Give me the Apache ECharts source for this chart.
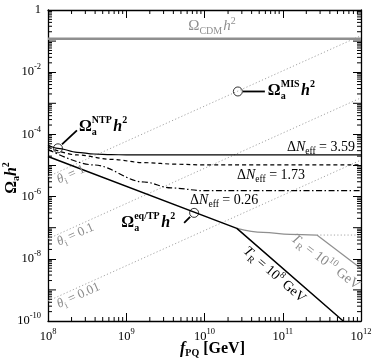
<!DOCTYPE html>
<html><head><meta charset="utf-8">
<script src="https://cdn.jsdelivr.net/npm/echarts@6/dist/echarts.min.js"></script>
<style>html,body{margin:0;padding:0;background:#fff}#c{width:374px;height:358px}</style>
</head><body><div id="c"></div>
<script>
// ---------------- data ----------------
const xTickExponents = [8, 9, 10, 11, 12];
const yTickExponents = [-10, -8, -6, -4, -2, 0];

const cdmF = [1e8, 1e12];
const cdmOmega = [0.12, 0.12];

const thetaF = [1e8, 1e12];
const theta1Omega = [4.4e-6, 0.15];
const theta01Omega = [4.4e-8, 1.5e-3];
const theta001Omega = [4.4e-10, 1.5e-5];

const dN359F = [1e8, 1.34e8, 2.35e8, 3.87e8, 6.4e8, 1e9, 1e12];
const dN359Omega = [4.57e-5, 3.57e-5, 2.66e-5, 2.34e-5, 2.24e-5, 2.2e-5, 2.19e-5];

const dN173F = [1e8, 2.35e8, 6.4e8, 1.69e9, 4.47e9, 9.9e9, 1e12];
const dN173Omega = [3.9e-5, 2.18e-5, 1.58e-5, 1.23e-5, 1.1e-5, 1.04e-5, 1.04e-5];

const dN026F = [1e8, 3.87e8, 1.69e9, 3.74e9, 9.9e9, 1e12];
const dN026Omega = [3.3e-5, 1.04e-5, 2.95e-6, 1.9e-6, 1.55e-6, 1.55e-6];

const eqF = [1e8, 2.59e10, 5.92e11];
const eqOmega = [1.95e-5, 9.5e-8, 1e-10];

const tr10CurveF = [2.59e10, 5.61e10, 1.24e11, 2.73e11];
const tr10CurveOmega = [9.5e-8, 7.1e-8, 6.1e-8, 5.8e-8];
const tr10DropF = [2.73e11, 1e12];
const tr10DropOmega = [5.8e-8, 4.9e-9];
const tr10DotF = [2.73e11, 1e12];
const tr10DotOmega = [5.8e-8, 5.8e-8];

const markerNames = ['NTP', 'MIS', 'eqTP'];
const markerF = [1.34e8, 2.67e10, 7.37e9];
const markerOmega = [3.57e-5, 2.4e-3, 3.0e-7];

// ---------------- helpers ----------------
const SERIF = "'Liberation Serif', 'Times New Roman', serif";
const pairs = (fs, os) => fs.map((f, i) => [f, os[i]]);
const mctx = document.createElement('canvas').getContext('2d');
function fontStr(p) {
  return (p.italic ? 'italic ' : '') + (p.bold ? 'bold ' : '') + p.size + 'px ' + SERIF;
}
function textW(t, font) { mctx.font = font; return mctx.measureText(t).width; }
function buildRun(parts, color) {
  let x = 0, stackStart = 0;
  const els = [];
  parts.forEach(p => {
    const font = fontStr(p);
    const w = textW(p.t, font);
    let px;
    if (p.stack) { px = stackStart; x = Math.max(x, px + w); }
    else { px = x + (p.gap || 0); stackStart = px; x = px + w; }
    els.push({ type: 'text', x: px, y: (p.dy || 0) - 0.34 * p.size,
      style: { text: p.t, font: font, fill: color, align: 'left', verticalAlign: 'middle' } });
  });
  return { els, width: x };
}
function powLabel(v) {
  const e = Math.round(Math.log10(v));
  return e === 0 ? '1' : '10{s|' + e + '}';
}

const GRAY = '#8f8f8f';
const LGRAY = '#a6a6a6';
const TGRAY = '#8a8a8a';

const omegaParts = (sup) => [
  { t: 'Ω', size: 16, bold: 1 },
  { t: 'a', size: 10, bold: 1, dy: 3.5 },
  { t: sup, size: 10, bold: 1, dy: -8, stack: 1 },
  { t: 'h', size: 16, bold: 1, italic: 1, gap: 1.5 },
  { t: '2', size: 10, bold: 1, dy: -8 }
];
const dnParts = (v) => [
  { t: 'Δ', size: 14 }, { t: 'N', size: 14, italic: 1 },
  { t: 'eff', size: 9.5, dy: 3 }, { t: ' = ' + v, size: 14 }
];
const thParts = (v) => [
  { t: 'θ', size: 13, italic: 1 }, { t: 'i', size: 9, dy: 3 }, { t: ' = ' + v, size: 13 }
];
const trParts = (e) => [
  { t: 'T', size: 14, italic: 1 }, { t: 'R', size: 9.5, dy: 3 },
  { t: ' = 10', size: 14 }, { t: e, size: 9.5, dy: -6.5 }, { t: ' GeV', size: 14 }
];

const annotations = [
  { parts: [{ t: 'Ω', size: 15 }, { t: 'CDM', size: 10, dy: 3 }, { t: 'h', size: 15, italic: 1, gap: 1 }, { t: '2', size: 10, dy: -7 }],
    at: [6.2e9, 0.12], dx: 0, dy: -7, color: GRAY },
  { parts: omegaParts('NTP'), at: [markerF[0], markerOmega[0]], dx: 21, dy: -16, color: '#000' },
  { parts: omegaParts('MIS'), at: [markerF[1], markerOmega[1]], dx: 30, dy: 4.5, color: '#000' },
  { parts: omegaParts('eq/TP'), at: [markerF[2], markerOmega[2]], dx: -19, dy: 15, color: '#000', align: 'right' },
  { parts: dnParts('3.59'), at: [1e12, dN359Omega[dN359Omega.length - 1]], dx: -6, dy: -3, color: '#000', align: 'right' },
  { parts: dnParts('1.73'), at: [2.6e10, dN173Omega[dN173Omega.length - 1]], dx: 0, dy: 15, color: '#000' },
  { parts: dnParts('0.26'), at: [6.55e9, dN026Omega[dN026Omega.length - 1]], dx: 0, dy: 14, color: '#000' },
  { parts: thParts('1'), at: [1.12e8, 4.4e-6 * 1.14], along: pairs(thetaF, theta1Omega), dx: 3, dy: 12, color: TGRAY },
  { parts: thParts('0.1'), at: [1.12e8, 4.4e-8 * 1.14], along: pairs(thetaF, theta01Omega), dx: 3, dy: 12, color: TGRAY },
  { parts: thParts('0.01'), at: [1.12e8, 4.4e-10 * 1.14], along: pairs(thetaF, theta001Omega), dx: 3, dy: 12, color: TGRAY },
  { parts: trParts('8'), at: [eqF[1], eqOmega[1]], along: [[eqF[1], eqOmega[1]], [eqF[2], eqOmega[2]]], dx: 20, dy: 15, color: '#000' },
  { parts: trParts('10'), at: [tr10DropF[0], tr10DropOmega[0]], along: pairs(tr10DropF, tr10DropOmega), dx: -18, dy: 21, color: TGRAY }
];
const pointers = [
  { at: 0, from: [4, -4], to: [19, -18] },
  { at: 1, from: [5, 0], to: [27, 0] },
  { at: 2, from: [-4, 4], to: [-10, 10] }
];

function renderAnno(params, api) {
  const els = [];
  annotations.forEach(a => {
    const p = api.coord(a.at);
    let rot = 0;
    if (a.along) {
      const p1 = api.coord(a.along[0]), p2 = api.coord(a.along[1]);
      rot = Math.atan2(-(p2[1] - p1[1]), p2[0] - p1[0]);
    }
    const run = buildRun(a.parts, a.color);
    let x0 = a.dx;
    if (a.align === 'right') x0 -= run.width;
    run.els.forEach(e => { e.x += x0; e.y += a.dy; });
    els.push({ type: 'group', x: p[0], y: p[1], rotation: rot, children: run.els });
  });
  pointers.forEach(q => {
    const c = api.coord([markerF[q.at], markerOmega[q.at]]);
    els.push({ type: 'line', shape: { x1: c[0] + q.from[0], y1: c[1] + q.from[1], x2: c[0] + q.to[0], y2: c[1] + q.to[1] },
      style: { stroke: '#000', lineWidth: 1.8 } });
  });
  return { type: 'group', children: els };
}

const MAJOR = 8, MINOR = 4;
function renderTicks(params, api) {
  const cs = params.coordSys;
  const L = cs.x, T = cs.y, R = cs.x + cs.width, B = cs.y + cs.height;
  const els = [];
  const seg = (x1, y1, x2, y2) => els.push({ type: 'line', shape: { x1, y1, x2, y2 }, style: { stroke: '#000', lineWidth: 1 } });
  for (let n = xTickExponents[0]; n < xTickExponents[xTickExponents.length - 1]; n++) {
    for (let k = 2; k <= 9; k++) {
      const x = api.coord([k * Math.pow(10, n), 1e-5])[0];
      seg(x, B, x, B - MINOR); seg(x, T, x, T + MINOR);
    }
  }
  for (let n = yTickExponents[0]; n < yTickExponents[yTickExponents.length - 1]; n++) {
    if (n % 2 !== 0) {
      const y = api.coord([1e9, Math.pow(10, n)])[1];
      seg(L, y, L + MAJOR, y); seg(R, y, R - MAJOR, y);
    }
    for (let k = 2; k <= 9; k++) {
      const y = api.coord([1e9, k * Math.pow(10, n)])[1];
      seg(L, y, L + MINOR, y); seg(R, y, R - MINOR, y);
    }
  }
  return { type: 'group', children: els };
}

const lineS = (name, data, color, width, type, extra) => Object.assign({
  name, type: 'line', data, showSymbol: false, silent: true,
  lineStyle: { color, width, type: type || 'solid' }, z: 3
}, extra || {});

const tickLabelRich = { s: { fontFamily: SERIF, fontSize: 8.5, padding: [0, 0, 10, 0], color: '#000' } };
const axisCommon = {
  axisLine: { show: true, onZero: false, lineStyle: { color: '#000', width: 1.3 } },
  axisTick: { show: true, inside: true, length: MAJOR, lineStyle: { color: '#000', width: 1 } },
  splitLine: { show: false }, minorTick: { show: false }
};

const option = {
  animation: false,
  backgroundColor: '#fff',
  grid: { left: 48, right: 13, top: 10, bottom: 37, containLabel: false, outerBoundsMode: 'none' },
  xAxis: [
    Object.assign({ type: 'log', logBase: 10, min: 1e8, max: 1e12, position: 'bottom',
      axisLabel: { margin: 6, formatter: powLabel, color: '#000', fontFamily: SERIF, fontSize: 12.5, rich: tickLabelRich },
      name: '{f|f}{s|PQ}{g| [GeV]}', nameLocation: 'middle', nameGap: 18, nameMoveOverlap: false,
      nameTextStyle: { color: '#000', padding: [0, 0, 0, 16], rich: {
        f: { fontFamily: SERIF, fontSize: 16, fontWeight: 'bold', fontStyle: 'italic', color: '#000' },
        s: { fontFamily: SERIF, fontSize: 10, fontWeight: 'bold', padding: [9, 0, 0, 0], color: '#000' },
        g: { fontFamily: SERIF, fontSize: 16, fontWeight: 'bold', color: '#000' } } }
    }, axisCommon),
    Object.assign({ type: 'log', logBase: 10, min: 1e8, max: 1e12, position: 'top', axisLabel: { show: false } }, axisCommon)
  ],
  yAxis: [
    Object.assign({ type: 'log', logBase: 100, min: 1e-10, max: 1, position: 'left',
      axisLabel: { margin: 7, formatter: powLabel, color: '#000', fontFamily: SERIF, fontSize: 12.5, rich: tickLabelRich },
      name: '{o|Ω}{s|a}{h|h}{p|2}', nameLocation: 'middle', nameGap: 26, nameRotate: 90, nameMoveOverlap: false,
      nameTextStyle: { color: '#000', padding: [0, 25, 0, 0], rich: {
        o: { fontFamily: SERIF, fontSize: 16, fontWeight: 'bold', color: '#000' },
        s: { fontFamily: SERIF, fontSize: 10, fontWeight: 'bold', padding: [9, 0, 0, 0], color: '#000' },
        h: { fontFamily: SERIF, fontSize: 16, fontWeight: 'bold', fontStyle: 'italic', color: '#000' },
        p: { fontFamily: SERIF, fontSize: 10, fontWeight: 'bold', padding: [0, 0, 11, 0], color: '#000' } } }
    }, axisCommon),
    Object.assign({ type: 'log', logBase: 100, min: 1e-10, max: 1, position: 'right', axisLabel: { show: false } }, axisCommon)
  ],
  series: [
    lineS('theta=1', pairs(thetaF, theta1Omega), LGRAY, 1, [1.2, 2.2], { z: 1 }),
    lineS('theta=0.1', pairs(thetaF, theta01Omega), LGRAY, 1, [1.2, 2.2], { z: 1 }),
    lineS('theta=0.01', pairs(thetaF, theta001Omega), LGRAY, 1, [1.2, 2.2], { z: 1 }),
    lineS('Omega_CDM', pairs(cdmF, cdmOmega), GRAY, 2.5),
    lineS('dNeff=3.59', pairs(dN359F, dN359Omega), '#000', 1.2, 'solid', { smooth: 0.35, smoothMonotone: 'x' }),
    lineS('dNeff=1.73', pairs(dN173F, dN173Omega), '#000', 1.2, [4, 3], { smooth: 0.35, smoothMonotone: 'x' }),
    lineS('dNeff=0.26', pairs(dN026F, dN026Omega), '#000', 1.2, [6, 2.5, 1.5, 2.5], { smooth: 0.35, smoothMonotone: 'x' }),
    lineS('TR=1e10 curve', pairs(tr10CurveF, tr10CurveOmega), GRAY, 1.2, 'solid', { smooth: 0.4, smoothMonotone: 'x' }),
    lineS('TR=1e10 drop', pairs(tr10DropF, tr10DropOmega), GRAY, 1.2),
    lineS('TR=1e10 cont', pairs(tr10DotF, tr10DotOmega), LGRAY, 1, [1.2, 2.2], { z: 1 }),
    lineS('eq/TP', pairs(eqF, eqOmega), '#000', 1.5, 'solid', { z: 4 }),
    { name: 'markers', type: 'scatter', data: pairs(markerF, markerOmega), symbol: 'circle', symbolSize: 9, silent: true, z: 5,
      itemStyle: { color: 'rgba(0,0,0,0)', borderColor: '#000', borderWidth: 1 } },
    { name: 'ticks', type: 'custom', renderItem: renderTicks, data: [[1e9, 1e-5]], silent: true, z: 6, clip: false },
    { name: 'labels', type: 'custom', renderItem: renderAnno, data: [[1e9, 1e-5]], silent: true, z: 7, clip: false }
  ]
};

const chart = echarts.init(document.getElementById('c'), null, { renderer: 'canvas' });
chart.setOption(option);
</script>
</body></html>
